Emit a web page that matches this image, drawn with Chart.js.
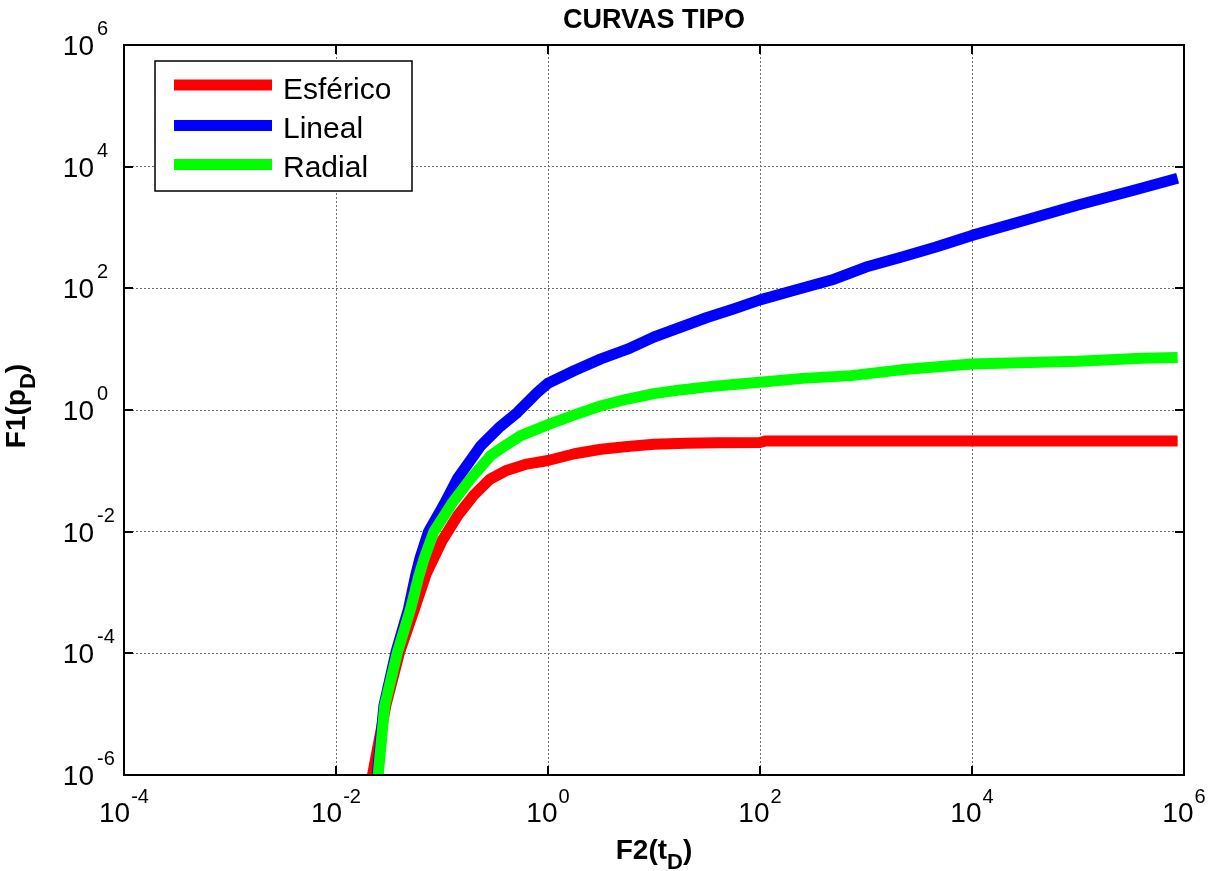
<!DOCTYPE html>
<html><head><meta charset="utf-8">
<script src="https://cdn.jsdelivr.net/npm/chart.js@4.4.0/dist/chart.umd.min.js"></script>
<style>html,body{margin:0;padding:0;background:#fff;}#wrap{width:1208px;height:871px;}canvas{display:block;}</style>
</head><body><div id="wrap"><canvas id="c" width="1208" height="871"></canvas></div>
<script>
const seriesNames = ['Esférico', 'Lineal', 'Radial'];
const seriesColors = ['#ff0000', '#0000ff', '#00ff00'];

const tEsferico = [0.0221,0.0295,0.0398,0.0550,0.0708,0.100,0.1413,0.1995,0.2818,0.398,0.631,1.0,1.778,3.162,5.623,10,19.95,39.8,100,112,1000,1e4,1e5,8.71e5];
const pEsferico = [1e-6,1.38e-5,1.047e-4,5.37e-4,2.0e-3,7.08e-3,1.862e-2,3.98e-2,7.24e-2,0.100,0.129,0.148,0.191,0.226,0.252,0.273,0.285,0.290,0.293,0.310,0.310,0.310,0.310,0.310];

const tLineal = [0.0245,0.0283,0.0368,0.0483,0.0562,0.0617,0.0746,0.1047,0.1396,0.2317,0.355,0.514,0.794,1.0,1.778,3.162,5.623,10,17.78,31.62,56.23,100,223.9,501.2,1000,2138,4571,1e4,31620,1e5,316200,871000];
const pLineal = [1e-6,1.38e-5,1.047e-4,5.37e-4,1.862e-3,3.548e-3,0.01,0.0282,0.0741,0.257,0.537,0.912,1.950,2.754,4.467,6.918,10.0,15.85,22.91,33.11,45.71,64.57,95.5,141.3,223.9,323.6,478.6,741.3,1318,2344,3981,6457];

const tRadial = [0.0250,0.0288,0.0380,0.0505,0.0605,0.0676,0.0838,0.1259,0.186,0.288,0.398,0.553,1.0,1.778,3.162,5.623,10,17.78,31.62,56.23,100,251.2,724.4,2138,1e4,42660,1e5,398100,871000];
const pRadial = [1e-6,1.38e-5,1.047e-4,5.37e-4,1.862e-3,3.548e-3,0.01,0.0302,0.0741,0.178,0.263,0.380,0.575,0.832,1.175,1.514,1.862,2.138,2.399,2.630,2.851,3.311,3.673,4.571,5.715,6.095,6.310,7.079,7.328];

const xTickValues = [1e-4, 1e-2, 1, 1e2, 1e4, 1e6];
const xTickExponents = ['-4', '-2', '0', '2', '4', '6'];
const yTickValues = [1e-6, 1e-4, 1e-2, 1, 1e2, 1e4, 1e6];
const yTickExponents = ['-6', '-4', '-2', '0', '2', '4', '6'];

const chartTitle = 'CURVAS TIPO';
const xAxisTitle = ['F2(t', 'D', ')'];
const yAxisTitle = ['F1(p', 'D', ')'];

const FONT = '"Liberation Sans", Arial, sans-serif';

function pts(xs, ys) { return xs.map((x, i) => ({ x: x, y: ys[i] })); }

const seriesX = [tEsferico, tLineal, tRadial];
const seriesY = [pEsferico, pLineal, pRadial];
const drawOrder = [3, 2, 1];

const datasets = seriesNames.map((name, i) => ({
  label: name,
  data: pts(seriesX[i], seriesY[i]),
  borderColor: seriesColors[i],
  backgroundColor: seriesColors[i],
  borderWidth: 11,
  pointRadius: 0,
  pointHoverRadius: 0,
  showLine: true,
  tension: 0,
  fill: false,
  borderJoinStyle: 'round',
  borderCapStyle: 'butt',
  order: drawOrder[i]
}));

function drawSupLabel(ctx, cx, baseline, expBaseline, exp, align) {
  ctx.font = '28px ' + FONT;
  const mw = ctx.measureText('10').width;
  ctx.font = '20px ' + FONT;
  const ew = ctx.measureText(exp).width;
  let x0;
  if (align === 'center') x0 = cx - (mw + 1 + ew) / 2;
  else x0 = cx - mw;
  ctx.textAlign = 'left';
  ctx.textBaseline = 'alphabetic';
  ctx.fillStyle = '#000';
  ctx.font = '28px ' + FONT;
  ctx.fillText('10', x0, baseline);
  ctx.font = '20px ' + FONT;
  ctx.fillText(exp, x0 + mw + (align === 'center' ? 1 : 3), expBaseline);
}

function drawSubText(ctx, parts, cx, baseline) {
  ctx.textBaseline = 'alphabetic';
  ctx.textAlign = 'left';
  ctx.font = 'bold 28px ' + FONT;
  const w0 = ctx.measureText(parts[0]).width;
  const w2 = ctx.measureText(parts[2]).width;
  ctx.font = 'bold 22px ' + FONT;
  const w1 = ctx.measureText(parts[1]).width;
  const total = w0 + w1 + w2;
  let x = cx - total / 2;
  ctx.font = 'bold 28px ' + FONT;
  ctx.fillText(parts[0], x, baseline);
  x += w0;
  ctx.font = 'bold 22px ' + FONT;
  ctx.fillText(parts[1], x, baseline + 10);
  x += w1;
  ctx.font = 'bold 28px ' + FONT;
  ctx.fillText(parts[2], x, baseline);
}

const decor = {
  id: 'decor',
  afterDraw(chart) {
    const ctx = chart.ctx, a = chart.chartArea;
    const xs = chart.scales.x, ys = chart.scales.y;
    ctx.save();
    ctx.strokeStyle = '#000';
    ctx.lineWidth = 2;
    ctx.strokeRect(a.left, a.top, a.right - a.left, a.bottom - a.top);
    const L = 9;
    ctx.beginPath();
    xTickValues.forEach(v => {
      const x = Math.round(xs.getPixelForValue(v));
      ctx.moveTo(x, a.bottom); ctx.lineTo(x, a.bottom - L);
      ctx.moveTo(x, a.top); ctx.lineTo(x, a.top + L);
    });
    yTickValues.forEach(v => {
      const y = Math.round(ys.getPixelForValue(v));
      ctx.moveTo(a.left, y); ctx.lineTo(a.left + L, y);
      ctx.moveTo(a.right, y); ctx.lineTo(a.right - L, y);
    });
    ctx.stroke();
    xTickValues.forEach((v, i) => {
      const x = xs.getPixelForValue(v);
      drawSupLabel(ctx, x, a.bottom + 47, a.bottom + 28, xTickExponents[i], 'center');
    });
    yTickValues.forEach((v, i) => {
      const y = ys.getPixelForValue(v);
      drawSupLabel(ctx, 94, y + 10, y - 10, yTickExponents[i], 'right');
    });
    ctx.fillStyle = '#000';
    ctx.font = 'bold 27px ' + FONT;
    ctx.textAlign = 'center';
    ctx.textBaseline = 'alphabetic';
    ctx.fillText(chartTitle, (a.left + a.right) / 2, 28);
    drawSubText(ctx, xAxisTitle, (a.left + a.right) / 2, 859);
    ctx.save();
    ctx.translate(25, (a.top + a.bottom) / 2 - 4);
    ctx.rotate(-Math.PI / 2);
    drawSubText(ctx, yAxisTitle, 0, 0);
    ctx.restore();
    const lx = 155, ly = 61, lw = 257, lh = 130;
    ctx.fillStyle = '#fff';
    ctx.fillRect(lx, ly, lw, lh);
    ctx.strokeStyle = '#000';
    ctx.lineWidth = 1.5;
    ctx.strokeRect(lx, ly, lw, lh);
    const rowY = [85, 125.5, 164.5];
    const rowBase = [99, 138, 177];
    chart.data.datasets.forEach((ds, i) => {
      ctx.strokeStyle = ds.borderColor;
      ctx.lineWidth = 11;
      ctx.lineCap = 'butt';
      ctx.beginPath();
      ctx.moveTo(174, rowY[i]);
      ctx.lineTo(272, rowY[i]);
      ctx.stroke();
      ctx.fillStyle = '#000';
      ctx.font = '30px ' + FONT;
      ctx.textAlign = 'left';
      ctx.fillText(ds.label, 283, rowBase[i]);
    });
    ctx.restore();
  }
};

const gridCommon = {
  display: true,
  color: '#6e6e6e',
  lineWidth: 1,
  drawTicks: false
};

new Chart(document.getElementById('c'), {
  type: 'scatter',
  data: { datasets: datasets },
  options: {
    responsive: false,
    animation: false,
    devicePixelRatio: 1,
    layout: { padding: { left: 124, right: 24, top: 45, bottom: 96 } },
    plugins: {
      legend: { display: false },
      title: { display: false },
      tooltip: { enabled: false }
    },
    scales: {
      x: {
        type: 'logarithmic',
        min: 1e-4, max: 1e6,
        afterBuildTicks: s => { s.ticks = xTickValues.map(v => ({ value: v })); },
        ticks: { display: false },
        grid: gridCommon,
        border: { display: false, dash: [2, 2] }
      },
      y: {
        type: 'logarithmic',
        min: 1e-6, max: 1e6,
        afterBuildTicks: s => { s.ticks = yTickValues.map(v => ({ value: v })); },
        ticks: { display: false },
        grid: gridCommon,
        border: { display: false, dash: [2, 2] }
      }
    }
  },
  plugins: [decor]
});
</script>
</body></html>
